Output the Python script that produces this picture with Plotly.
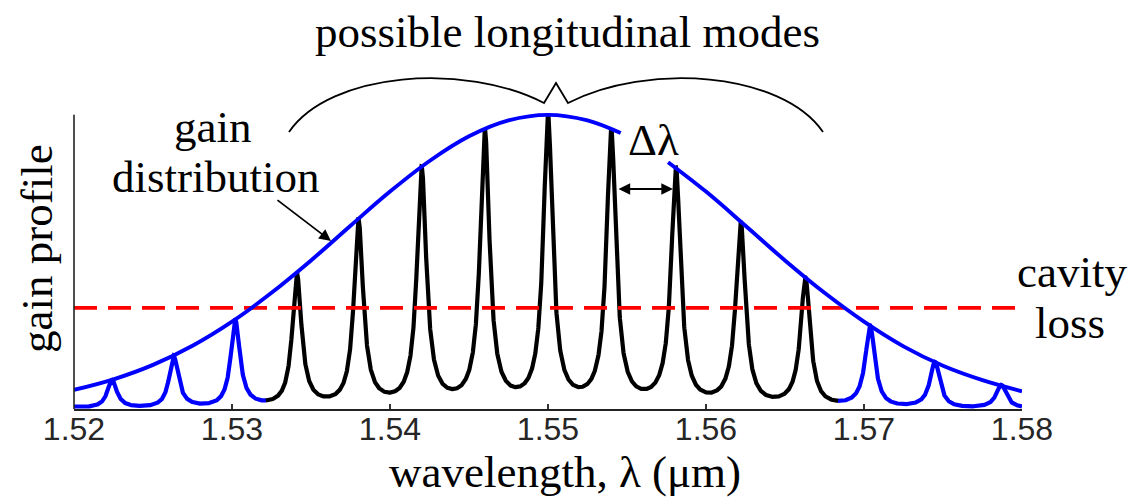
import numpy as np
import plotly.graph_objects as go

# ---------------- data ----------------
tick_vals = [1.52, 1.53, 1.54, 1.55, 1.56, 1.57, 1.58]
tick_text = ["1.52", "1.53", "1.54", "1.55", "1.56", "1.57", "1.58"]

# longitudinal mode wavelengths (um) and their peak gain (relative)
mode_wavelength = [1.5224, 1.5263, 1.5302, 1.5341, 1.5380, 1.5420, 1.5460, 1.5500,
                   1.5540, 1.5581, 1.5622, 1.5663, 1.5704, 1.5745, 1.5787]
mode_peak = [0.099, 0.180, 0.303, 0.462, 0.645, 0.823, 0.953, 1.000,
             0.952, 0.820, 0.637, 0.447, 0.283, 0.160, 0.082]
mode_floor = 0.076          # trough level between modes, relative to local peak

# gain distribution (blue curve), read at points; None marks the gap near the delta-lambda label
gain_wl = [1.52, 1.5225, 1.525, 1.5275, 1.53, 1.5325, 1.535, 1.5375, 1.54, 1.5425,
           1.545, 1.5475, 1.55, 1.5525, 1.5546, 1.556, 1.5576, 1.56, 1.5625, 1.565,
           1.5675, 1.57, 1.5725, 1.575, 1.5775, 1.58]
gain_val = [0.065, 0.101, 0.150, 0.215, 0.297, 0.395, 0.505, 0.623, 0.739, 0.843,
            0.927, 0.981, 1.000, 0.981, 0.938, None, 0.839, 0.739, 0.623, 0.505,
            0.395, 0.297, 0.213, 0.147, 0.098, 0.060]

cavity_loss = 0.3435

# ---------------- layout helpers (pixel geometry) ----------------
W, H = 1129, 497
L, R_px, B_px = 74, 1022, 409
T_px = 106
y_top = 1.03
PW, PH = R_px - L, B_px - T_px


def pxx(px):
    return (px - L) / PW


def pxy(py):
    return (B_px - py) / PH


def data_x(px):
    return 1.52 + (px - L) / PW * 0.06


def data_y(py):
    return (B_px - py) / PH * y_top


# ---------------- mode comb (Airy line shape through read peaks) ----------------
lam = np.linspace(1.52, 1.58, 6001)
c = np.array(mode_wavelength)
idx = np.arange(len(c), dtype=float)
phase = np.interp(lam, c, idx)
lo = lam < c[0]
hi = lam > c[-1]
phase[lo] = (lam[lo] - c[0]) / (c[1] - c[0])
phase[hi] = idx[-1] + (lam[hi] - c[-1]) / (c[-1] - c[-2])
F = 1.0 / mode_floor - 1.0
airy = 1.0 / (1.0 + F * np.sin(np.pi * phase) ** 2)
env = np.interp(lam, c, np.array(mode_peak))
comb = env * airy

lasing = [i for i, p in enumerate(mode_peak) if p > cavity_loss]
b_left = 0.5 * (c[lasing[0] - 1] + c[lasing[0]])
b_right = 0.5 * (c[lasing[-1]] + c[lasing[-1] + 1])
mL = lam <= b_left + 1e-5
mM = (lam >= b_left - 1e-5) & (lam <= b_right + 1e-5)
mR = lam >= b_right - 1e-5

BLUE = "#0000ff"
LW = 4.2
fig = go.Figure()
fig.add_trace(go.Scatter(x=lam[mL], y=comb[mL], mode="lines",
                         line=dict(color=BLUE, width=LW), hoverinfo="skip"))
fig.add_trace(go.Scatter(x=lam[mR], y=comb[mR], mode="lines",
                         line=dict(color=BLUE, width=LW), hoverinfo="skip"))
fig.add_trace(go.Scatter(x=lam[mM], y=comb[mM], mode="lines",
                         line=dict(color="#000000", width=LW), hoverinfo="skip"))
fig.add_trace(go.Scatter(x=[1.52, 1.58], y=[cavity_loss, cavity_loss], mode="lines",
                         line=dict(color="#ff0000", width=3.8, dash="23px,11px"),
                         hoverinfo="skip"))
fig.add_trace(go.Scatter(x=gain_wl, y=gain_val, mode="lines", connectgaps=False,
                         line=dict(color=BLUE, width=3.9, shape="spline", smoothing=1.0),
                         hoverinfo="skip"))

serif = "Liberation Serif, Times New Roman, serif"
TXT = 45

annotations = []


def label(text, px, py_center, size=TXT, angle=0):
    annotations.append(dict(text=text, x=pxx(px), y=pxy(py_center), xref="paper", yref="paper",
                            showarrow=False, xanchor="center", yanchor="middle",
                            font=dict(family=serif, size=size, color="#000000"),
                            textangle=angle))


label("possible longitudinal modes", 567, 32)
label("gain", 212, 127)
label("distribution", 216, 177)
label("Δλ", 653, 140)
label("cavity", 1072, 272)
label("loss", 1070, 323)
label("wavelength, λ (μm)", 565, 472)
label("gain profile", 37, 249, angle=-90)

# arrow pointing at gain distribution
annotations.append(dict(x=data_x(331), y=data_y(241), xref="x", yref="y", text="",
                        showarrow=True, ax=-55, ay=-42, axref="pixel", ayref="pixel",
                        arrowhead=2, arrowsize=1.3, arrowwidth=1.8, arrowcolor="#000000",
                        standoff=0))
# delta-lambda double arrow
annotations.append(dict(x=data_x(673), y=data_y(189), xref="x", yref="y", text="",
                        showarrow=True, ax=-56, ay=0, arrowside="end+start",
                        arrowhead=2, arrowsize=1.3, arrowwidth=1.8, arrowcolor="#000000",
                        standoff=0, startstandoff=0))


def P(px, py):
    return f"{pxx(px):.5f},{pxy(py):.5f}"


brace = (f"M {P(289,132)} C {P(330,72)} {P(465,62)} {P(544,103)} "
         f"L {P(556,83)} L {P(568,103)} "
         f"C {P(647,62)} {P(782,72)} {P(823,132)}")

shapes = [
    dict(type="path", path=brace, xref="paper", yref="paper",
         line=dict(color="#000000", width=1.8)),
    dict(type="line", xref="paper", yref="y", x0=0, x1=0, y0=0, y1=1.0,
         line=dict(color="#222222", width=1.6)),
]

fig.update_layout(
    width=W, height=H,
    margin=dict(l=L, r=W - R_px, t=T_px, b=H - B_px, pad=0),
    paper_bgcolor="#ffffff", plot_bgcolor="#ffffff",
    showlegend=False,
    annotations=annotations,
    shapes=shapes,
    xaxis=dict(range=[1.52, 1.58], tickvals=tick_vals, ticktext=tick_text,
               showgrid=False, zeroline=False, showline=True, linecolor="#222222",
               linewidth=2, ticks="inside", ticklen=5, tickwidth=1.5, tickcolor="#333333",
               ticklabelstandoff=-9,
               tickfont=dict(family="Liberation Sans, Arial, sans-serif", size=32,
                             color="#262626"),
               fixedrange=True),
    yaxis=dict(range=[0, y_top], showgrid=False, zeroline=False, showline=False,
               showticklabels=False, ticks="", fixedrange=True),
)

fig.write_html("out.html")
